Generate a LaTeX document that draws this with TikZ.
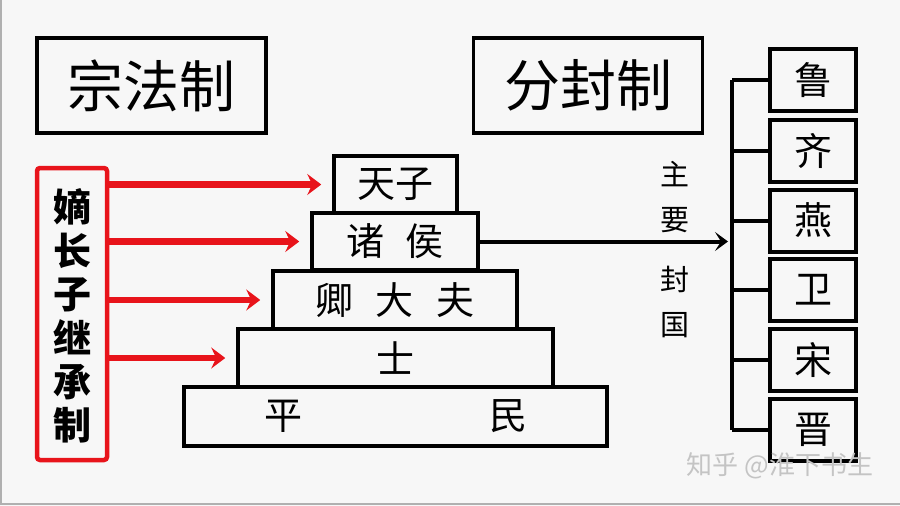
\documentclass[tikz,border=0pt]{standalone}
\usepackage{fontspec}
\setmainfont{Noto Sans CJK SC}
\usetikzlibrary{arrows.meta}
\definecolor{bg}{HTML}{F7F7F7}
\definecolor{redc}{HTML}{E8141B}
\definecolor{frame}{HTML}{B0B0B0}
\definecolor{wm}{HTML}{C4C4C4}
\tikzset{
  titlebox/.style={draw=black, line width=3.5pt, minimum width=229pt, minimum height=95pt, inner sep=0pt, font=\fontsize{56}{60}\selectfont},
  tier/.style={draw=black, line width=3.5pt, inner sep=0pt, font=\fontsize{38}{40}\selectfont},
  statebox/.style={draw=black, line width=4pt, minimum width=86pt, minimum height=62pt, inner sep=0pt, font=\fontsize{38}{40}\selectfont},
  vlabel/.style={align=center, inner sep=0pt, font=\fontsize{29}{45}\selectfont},
  redarrow/.style={draw=redc, line width=6.5pt, -{Stealth[length=14pt,width=21pt,inset=5pt]}, shorten >=11pt},
  blackarrow/.style={draw=black, line width=4pt, -{Stealth[length=13pt,width=19pt,inset=6pt]}},
  bus/.style={draw=black, line width=4pt},
}
\begin{document}
\begin{tikzpicture}[x=1pt,y=-1pt]
\useasboundingbox (0,0) rectangle (900,506);
\fill[bg] (0,0) rectangle (900,506);
\draw[frame, line width=1.5pt] (0.75,0) -- (0.75,504) -- (900,504);

% titles
\node[titlebox] (zf) at (151.5,85.5) {宗法制};
\node[titlebox] (ff) at (588,85.5) {分封制};

% red box
\node[draw=redc, line width=4.5pt, rounded corners=3pt, minimum width=70pt, minimum height=292pt, inner sep=0pt] (red) at (72,314) {};
\node[align=center, inner sep=0pt, font=\fontsize{38}{43.6}\selectfont\bfseries] (redtxt) at (72,316) {嫡\\长\\子\\继\\承\\制};

% pyramid
\node[tier, minimum width=423pt, minimum height=59pt] (pm) at (395.5,416.5) {平\hspace{187pt}民};
\node[tier, minimum width=315pt, minimum height=58pt] (shi) at (395.5,358) {士};
\node[tier, minimum width=244pt, minimum height=58pt] (qdf) at (395,300) {卿\hspace{23pt}大\hspace{23pt}夫};
\node[tier, minimum width=166pt, minimum height=57pt] (zh) at (395,241.5) {诸\hspace{22pt}侯};
\node[tier, minimum width=123pt, minimum height=57pt] (tz) at (395.5,184.5) {天子};

% red arrows
\draw[redarrow] (red.east |- tz.west) -- (tz.west);
\draw[redarrow] (red.east |- zh.west) -- (zh.west);
\draw[redarrow] (red.east |- qdf.west) -- (qdf.west);
\draw[redarrow] (red.east |- shi.west) -- (shi.west);

% states
\node[statebox] (lu) at (813,80) {鲁};
\node[statebox] (qi) at (813,150.5) {齐};
\node[statebox] (yan) at (813,220.5) {燕};
\node[statebox] (wei) at (813,290) {卫};
\node[statebox] (song) at (813,360) {宋};
\node[statebox] (jin) at (813,430) {晋};

\coordinate (bx) at (732,0);
\coordinate (tip) at (728,241.5);
\draw[blackarrow] (zh.east) -- (tip);
\draw[bus] (bx |- lu.west) -- (bx |- jin.west);
\foreach \s in {lu,qi,yan,wei,song,jin}{
  \draw[bus] (bx |- \s.west) -- (\s.west);
}

\node[vlabel] (zy) at (675,197.5) {主\\要};
\node[vlabel] (fg) at (675,302) {封\\国};

% watermark
\node[text=wm, inner sep=0pt, font=\fontsize{26}{28}\selectfont] (wmk) at (780,466) {知乎 @淮下书生};
\end{tikzpicture}
\end{document}
